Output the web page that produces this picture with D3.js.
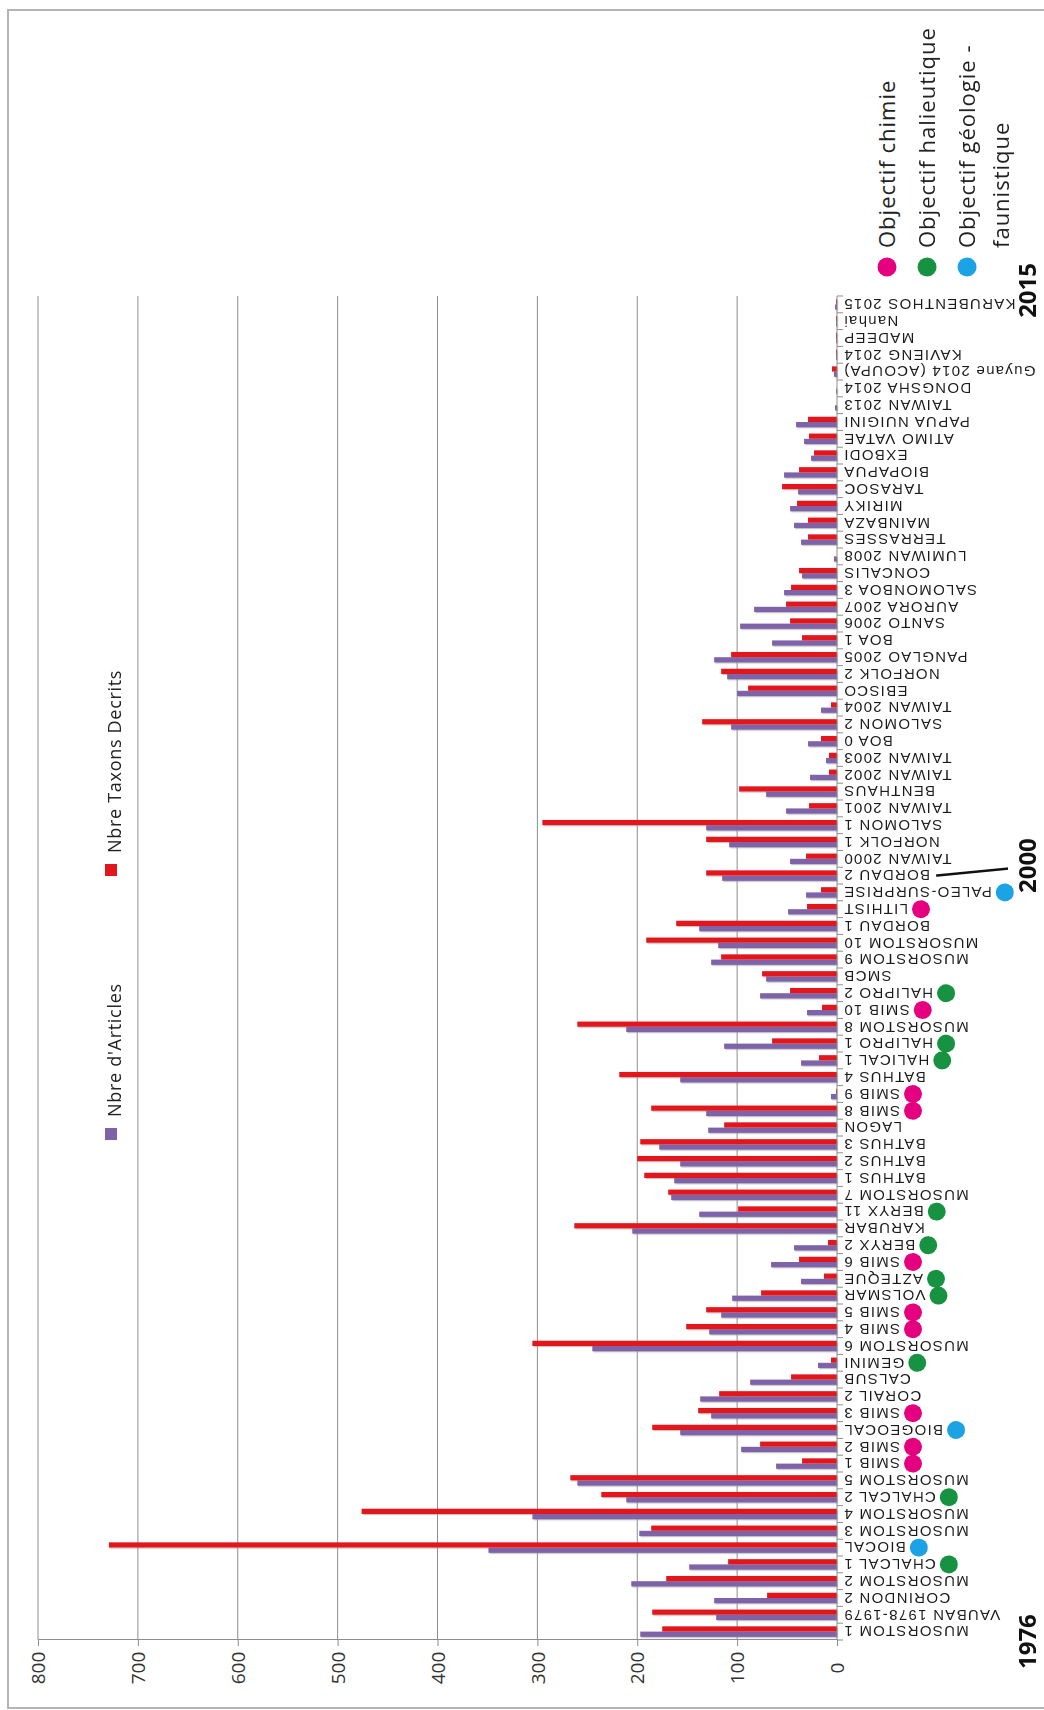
<!DOCTYPE html>
<html>
<head>
<meta charset="utf-8">
<script src="https://cdn.jsdelivr.net/npm/d3@7"></script>
<style>
  body { margin: 0; background: #fff; }
</style>
</head>
<body>
<div id="chart"></div>
<script>
// cruises in chronological order (1976 -> 2015)
const cruises = [
  "MUSORSTOM 1", "VAUBAN 1978-1979", "CORINDON 2", "MUSORSTOM 2", "CHALCAL 1",
  "BIOCAL", "MUSORSTOM 3", "MUSORSTOM 4", "CHALCAL 2", "MUSORSTOM 5",
  "SMIB 1", "SMIB 2", "BIOGEOCAL", "SMIB 3", "CORAIL 2",
  "CALSUB", "GEMINI", "MUSORSTOM 6", "SMIB 4", "SMIB 5",
  "VOLSMAR", "AZTEQUE", "SMIB 6", "BERYX 2", "KARUBAR",
  "BERYX 11", "MUSORSTOM 7", "BATHUS 1", "BATHUS 2", "BATHUS 3",
  "LAGON", "SMIB 8", "SMIB 9", "BATHUS 4", "HALICAL 1",
  "HALIPRO 1", "MUSORSTOM 8", "SMIB 10", "HALIPRO 2", "SMCB",
  "MUSORSTOM 9", "MUSORSTOM 10", "BORDAU 1", "LITHIST", "PALEO-SURPRISE",
  "BORDAU 2", "TAIWAN 2000", "NORFOLK 1", "SALOMON 1", "TAIWAN 2001",
  "BENTHAUS", "TAIWAN 2002", "TAIWAN 2003", "BOA 0", "SALOMON 2",
  "TAIWAN 2004", "EBISCO", "NORFOLK 2", "PANGLAO 2005", "BOA 1",
  "SANTO 2006", "AURORA 2007", "SALOMONBOA 3", "CONCALIS", "LUMIWAN 2008",
  "TERRASSES", "MAINBAZA", "MIRIKY", "TARASOC", "BIOPAPUA",
  "EXBODI", "ATIMO VATAE", "PAPUA NUIGINI", "TAIWAN 2013", "DONGSHA 2014",
  "Guyane 2014 (ACOUPA)", "KAVIENG 2014", "MADEEP", "Nanhai", "KARUBENTHOS 2015"
];

// Nbre d'Articles
const nbArticles = [
  197, 121, 123, 206, 148, 349, 198, 305, 211, 260,
  61, 96, 157, 126, 137, 87, 19, 245, 128, 116,
  105, 36, 66, 43, 205, 138, 166, 163, 157, 178,
  129, 131, 6, 157, 36, 113, 211, 30, 77, 71,
  126, 119, 138, 49, 31, 115, 47, 108, 131, 51,
  71, 27, 11, 29, 106, 16, 100, 110, 123, 65,
  97, 83, 53, 35, 3, 36, 43, 47, 39, 53,
  26, 33, 41, 2, 1, 3, 1, 1, 1, 2
];

// Nbre Taxons Decrits
const nbTaxons = [
  175, 185, 70, 171, 109, 729, 186, 476, 236, 267,
  35, 77, 185, 139, 118, 46, 6, 305, 151, 131,
  76, 13, 38, 9, 263, 99, 169, 193, 200, 197,
  113, 186, 1, 218, 18, 65, 260, 15, 47, 75,
  116, 191, 161, 30, 16, 131, 31, 131, 295, 28,
  98, 8, 8, 16, 135, 6, 89, 116, 106, 35,
  47, 51, 46, 38, 0, 29, 29, 40, 55, 38,
  23, 28, 29, 0, 0, 5, 1, 1, 1, 1
];

const valueTicks = [0, 100, 200, 300, 400, 500, 600, 700, 800];

const seriesNames = ["Nbre d'Articles", "Nbre Taxons Decrits"];
const seriesColors = ["#7f63a9", "#e3161d"];

// cruise objectives (coloured dots)
const objChimie = ["SMIB 1", "SMIB 2", "SMIB 3", "SMIB 4", "SMIB 5", "SMIB 6",
  "SMIB 8", "SMIB 9", "SMIB 10", "LITHIST"];
const objHalieutique = ["CHALCAL 1", "CHALCAL 2", "GEMINI", "VOLSMAR", "AZTEQUE",
  "BERYX 2", "BERYX 11", "HALICAL 1", "HALIPRO 1", "HALIPRO 2"];
const objGeologie = ["BIOCAL", "BIOGEOCAL", "PALEO-SURPRISE"];
const objNames = ["Objectif chimie", "Objectif halieutique", "Objectif géologie -|faunistique"];
const objColors = ["#e4007f", "#179240", "#1ba3e6"];

const yearLabels = ["1976", "2000", "2015"];
const yearCruises = ["MUSORSTOM 1", "BORDAU 2", "KARUBENTHOS 2015"];

const width = 1044, height = 1710;

const svg = d3.select("#chart").append("svg")
  .attr("width", width)
  .attr("height", height)
  .style("display", "block");

svg.append("defs").append("filter")
  .attr("id", "shadow")
  .attr("x", "-20%").attr("y", "-20%").attr("width", "140%").attr("height", "140%")
  .append("feDropShadow")
  .attr("dx", -1.2).attr("dy", 1.2)
  .attr("stdDeviation", 0.7)
  .attr("flood-color", "#999")
  .attr("flood-opacity", 0.55);

// frame
svg.append("rect")
  .attr("x", 8).attr("y", 10)
  .attr("width", width + 10).attr("height", height - 12)
  .attr("fill", "none")
  .attr("stroke", "#b5b5b5")
  .attr("stroke-width", 2);

// the chart is drawn as a normal column chart, then the whole thing turned a quarter
const g = svg.append("g")
  .attr("transform", "translate(0," + height + ") rotate(-90)");

const x = d3.scaleBand().domain(cruises).range([70, 1414]);
const x1 = d3.scaleBand().domain([0, 1]).range([0, x.bandwidth()]).paddingOuter(0.6);
const y = d3.scaleLinear().domain([0, 800]).range([837, 38]);

// grid
g.append("g").selectAll("line")
  .data(valueTicks.filter(d => d > 0))
  .join("line")
  .attr("x1", x.range()[0]).attr("x2", x.range()[1])
  .attr("y1", d => y(d)).attr("y2", d => y(d))
  .attr("stroke", "#8d8d8d")
  .attr("stroke-width", 1);

// value axis
const yAxis = g.append("g")
  .attr("transform", "translate(" + x.range()[0] + ",0)")
  .call(d3.axisLeft(y).tickValues(valueTicks).tickSize(6).tickSizeOuter(0).tickFormat(d3.format("d")));
yAxis.select(".domain").attr("stroke", "#8d8d8d");
yAxis.selectAll(".tick line").attr("stroke", "#8d8d8d");
yAxis.selectAll(".tick text")
  .attr("x", -28)
  .attr("dy", "0.35em")
  .attr("text-anchor", "middle")
  .attr("fill", "#333")
  .style("font-family", "'Open Sans', sans-serif")
  .style("font-size", "19px");

// bars
const rows = cruises.map((c, i) => ({ cruise: c, values: [nbArticles[i], nbTaxons[i]] }));
const barGroups = g.append("g")
  .attr("filter", "url(#shadow)")
  .selectAll("g")
  .data(rows)
  .join("g")
  .attr("transform", d => "translate(" + x(d.cruise) + ",0)");

barGroups.selectAll("rect")
  .data(d => d.values.map((v, k) => ({ k: k, v: v })))
  .join("rect")
  .attr("x", d => x1(d.k))
  .attr("width", x1.bandwidth())
  .attr("y", d => y(d.v))
  .attr("height", d => y(0) - y(d.v))
  .attr("fill", d => seriesColors[d.k]);

// category axis
const catAxis = g.append("g");
catAxis.append("line")
  .attr("x1", x.range()[0]).attr("x2", x.range()[1])
  .attr("y1", y(0)).attr("y2", y(0))
  .attr("stroke", "#8d8d8d");
catAxis.selectAll(".ctick")
  .data(cruises.map(c => x(c)).concat([x.range()[1]]))
  .join("line")
  .attr("class", "ctick")
  .attr("x1", d => d).attr("x2", d => d)
  .attr("y1", y(0)).attr("y2", y(0) + 6)
  .attr("stroke", "#8d8d8d");

const labels = catAxis.selectAll(".clabel")
  .data(cruises)
  .join("text")
  .attr("class", "clabel")
  .attr("transform", d => "translate(" + (x(d) + x.bandwidth() / 2) + "," + (y(0) + 6) + ") rotate(-90)")
  .attr("text-anchor", "end")
  .attr("dy", "0.35em")
  .attr("fill", "#1a1a1a")
  .style("font-family", "'Liberation Sans', Arial, sans-serif")
  .style("font-size", "15px")
  .style("letter-spacing", "1.3px")
  .text(d => d);

const labelLength = {};
labels.each(function (d) { labelLength[d] = this.getComputedTextLength(); });

// objective dots after the labels
const dotData = [];
[objChimie, objHalieutique, objGeologie].forEach((list, k) => {
  list.forEach(c => dotData.push({ cruise: c, k: k }));
});
g.append("g").selectAll("circle")
  .data(dotData)
  .join("circle")
  .attr("cx", d => x(d.cruise) + x.bandwidth() / 2)
  .attr("cy", d => y(0) + 6 + labelLength[d.cruise] + 13)
  .attr("r", 9)
  .attr("fill", d => objColors[d.k]);

// years
const yearShift = [-10, 10, 14];
g.append("g").selectAll("text")
  .data(yearLabels)
  .join("text")
  .attr("x", (d, i) => x(yearCruises[i]) + x.bandwidth() / 2 + yearShift[i])
  .attr("y", 1036)
  .attr("text-anchor", "middle")
  .attr("fill", "#111")
  .style("font-family", "'Open Sans', sans-serif")
  .style("font-weight", "700")
  .style("font-size", "24px")
  .text(d => d);

// pointer from BORDAU 2 to 2000
const bordau = yearCruises[1];
g.append("line")
  .attr("x1", x(bordau) + x.bandwidth() / 2)
  .attr("y1", y(0) + 6 + labelLength[bordau] + 6)
  .attr("x2", x(bordau) + x.bandwidth() / 2 + 7)
  .attr("y2", 1008)
  .attr("stroke", "#111")
  .attr("stroke-width", 2.5);

// series legend
const legUs = [576, 840];
const leg = g.append("g").selectAll("g")
  .data(seriesNames)
  .join("g")
  .attr("transform", (d, i) => "translate(" + legUs[i] + ",111)");
leg.append("rect")
  .attr("x", -6).attr("y", -6)
  .attr("width", 12).attr("height", 12)
  .attr("fill", (d, i) => seriesColors[i]);
leg.append("text")
  .attr("x", 17)
  .attr("y", 4)
  .attr("dy", "0.35em")
  .attr("fill", "#222")
  .style("font-family", "'Open Sans', sans-serif")
  .style("font-size", "18px")
  .style("letter-spacing", "0.7px")
  .text(d => d);

// objective legend
const objLeg = g.append("g").selectAll("g")
  .data(objNames)
  .join("g")
  .attr("transform", (d, i) => "translate(1443," + (887 + i * 40) + ")");
objLeg.append("circle")
  .attr("r", 9.5)
  .attr("fill", (d, i) => objColors[i]);
objLeg.append("text")
  .attr("x", 19)
  .attr("dy", "0.35em")
  .attr("fill", "#222")
  .style("font-family", "'Open Sans', sans-serif")
  .style("font-size", "22px")
  .style("letter-spacing", "1px")
  .selectAll("tspan")
  .data(d => d.split("|"))
  .join("tspan")
  .attr("x", 19)
  .attr("dy", (d, i) => i === 0 ? "0.35em" : "34px")
  .text(d => d);
</script>
</body>
</html>
